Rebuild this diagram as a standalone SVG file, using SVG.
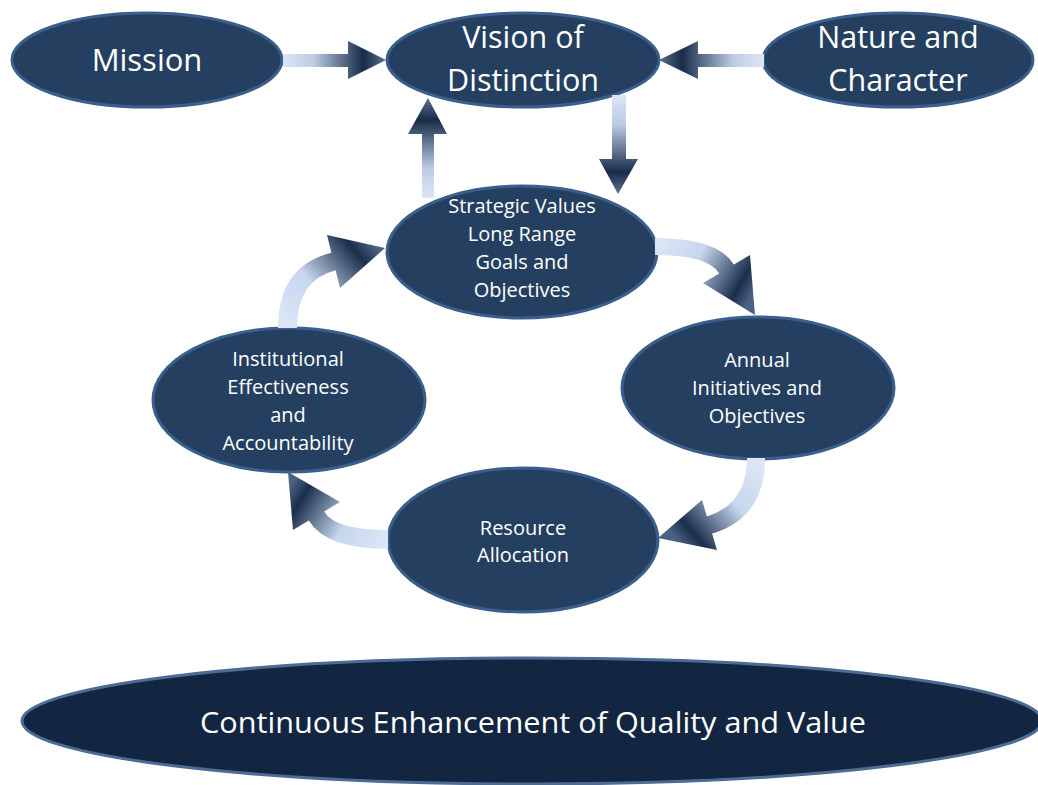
<svg xmlns="http://www.w3.org/2000/svg" width="1038" height="785" viewBox="0 0 1038 785">
<style>
.node{fill:#243F60;stroke:#3B5F8C;stroke-width:3}
.big{fill:#132641;stroke:#4C6B95;stroke-width:3}
.t{fill:#FFFFFF;font-family:"Open Sans","DejaVu Sans",sans-serif;text-anchor:middle}
.l{font-size:30.5px}
.s{font-size:20px}
</style>
<defs>
<linearGradient id="gMV" gradientUnits="userSpaceOnUse" x1="283" y1="0" x2="386" y2="0">
<stop offset="0" stop-color="#DCE6F6"/><stop offset="0.3" stop-color="#BCCBE3"/><stop offset="0.78" stop-color="#182C48"/><stop offset="1" stop-color="#5C7090"/>
</linearGradient>
<linearGradient id="gNV" gradientUnits="userSpaceOnUse" x1="764" y1="0" x2="659" y2="0">
<stop offset="0" stop-color="#DCE6F6"/><stop offset="0.3" stop-color="#BCCBE3"/><stop offset="0.78" stop-color="#182C48"/><stop offset="1" stop-color="#5C7090"/>
</linearGradient>
<linearGradient id="gVS" gradientUnits="userSpaceOnUse" x1="0" y1="95" x2="0" y2="194">
<stop offset="0" stop-color="#DCE6F6"/><stop offset="0.3" stop-color="#BCCBE3"/><stop offset="0.78" stop-color="#182C48"/><stop offset="1" stop-color="#5C7090"/>
</linearGradient>
<linearGradient id="gSV" gradientUnits="userSpaceOnUse" x1="0" y1="198" x2="0" y2="98">
<stop offset="0" stop-color="#DCE6F6"/><stop offset="0.3" stop-color="#BCCBE3"/><stop offset="0.78" stop-color="#182C48"/><stop offset="1" stop-color="#5C7090"/>
</linearGradient>
<linearGradient id="gSA" gradientUnits="userSpaceOnUse" x1="655" y1="246" x2="750" y2="300">
<stop offset="0" stop-color="#DCE6F6"/><stop offset="0.4" stop-color="#C6D6EE"/><stop offset="0.85" stop-color="#1A2F4C"/><stop offset="1" stop-color="#4C6284"/>
</linearGradient>
<linearGradient id="gAR" gradientUnits="userSpaceOnUse" x1="756" y1="460" x2="670" y2="532">
<stop offset="0" stop-color="#DCE6F6"/><stop offset="0.4" stop-color="#C6D6EE"/><stop offset="0.85" stop-color="#1A2F4C"/><stop offset="1" stop-color="#4C6284"/>
</linearGradient>
<linearGradient id="gRI" gradientUnits="userSpaceOnUse" x1="388" y1="540" x2="292" y2="482">
<stop offset="0" stop-color="#DCE6F6"/><stop offset="0.4" stop-color="#C6D6EE"/><stop offset="0.85" stop-color="#1A2F4C"/><stop offset="1" stop-color="#4C6284"/>
</linearGradient>
<linearGradient id="gIS" gradientUnits="userSpaceOnUse" x1="287" y1="328" x2="378" y2="250">
<stop offset="0" stop-color="#DCE6F6"/><stop offset="0.4" stop-color="#C6D6EE"/><stop offset="0.85" stop-color="#1A2F4C"/><stop offset="1" stop-color="#4C6284"/>
</linearGradient>
</defs>
<rect width="1038" height="785" fill="#FFFFFF"/>
<g id="mission"><ellipse class="node" cx="147" cy="60" rx="135" ry="47"/><text class="t l" x="147" y="71" style="font-size:31px">Mission</text></g>
<g id="vision"><ellipse class="node" cx="523" cy="60" rx="136" ry="47"/><text class="t l" x="523" y="48">Vision of</text><text class="t l" x="523" y="91">Distinction</text></g>
<g id="nature"><ellipse class="node" cx="898" cy="60" rx="135" ry="47"/><text class="t l" x="898" y="48">Nature and</text><text class="t l" x="898" y="91">Character</text></g>
<g id="strategic"><ellipse class="node" cx="522" cy="252" rx="135" ry="66"/><text class="t s" x="522" y="213">Strategic Values</text><text class="t s" x="522" y="241">Long Range</text><text class="t s" x="522" y="269">Goals and</text><text class="t s" x="522" y="297">Objectives</text></g>
<g id="institutional"><ellipse class="node" cx="289" cy="400" rx="136" ry="72"/><text class="t s" x="288" y="366">Institutional</text><text class="t s" x="288" y="394">Effectiveness</text><text class="t s" x="288" y="422">and</text><text class="t s" x="288" y="450">Accountability</text></g>
<g id="annual"><ellipse class="node" cx="758" cy="388" rx="136" ry="71"/><text class="t s" x="757" y="367">Annual</text><text class="t s" x="757" y="395">Initiatives and</text><text class="t s" x="757" y="423">Objectives</text></g>
<g id="resource"><ellipse class="node" cx="523" cy="540" rx="135" ry="72"/><text class="t s" x="523" y="535">Resource</text><text class="t s" x="523" y="562">Allocation</text></g>
<g id="continuous"><ellipse class="big" cx="532" cy="721" rx="510" ry="63"/><text class="t" x="533" y="733" style="font-size:30px" textLength="666" lengthAdjust="spacingAndGlyphs">Continuous Enhancement of Quality and Value</text></g>
<g id="connectors">
<path fill="url(#gMV)" d="M283,54 L348,54 L348,41 L386,60 L348,79 L348,67 L283,67 Z"/>
<path fill="url(#gNV)" d="M764,54 L698,54 L698,41 L659,60 L698,79 L698,67 L764,67 Z"/>
<path fill="url(#gVS)" d="M612,95 L612,159 L599,159 L618,194 L638,159 L626,159 L626,95 Z"/>
<path fill="url(#gSV)" d="M422,198 L422,134 L408,134 L428,98 L447,134 L434,134 L434,198 Z"/>
<path fill="url(#gSA)" d="M655,238 Q718,238 733.8,264.6 L750,255 L755,315 L703,283 L719.2,273.4 Q708,255 655,255 Z"/>
<path fill="url(#gAR)" d="M765,458 Q765,518 712.1,533.6 L717,550 L658,538 L702,500 L706.9,516.4 Q747,504 747,458 Z"/>
<path fill="url(#gRI)" d="M388,530 Q335,530 324.2,511.4 L340,502 L288,472 L293,530 L308.8,520.6 Q326,549 388,549 Z"/>
<path fill="url(#gIS)" d="M278,328 Q278,266 331.4,252.8 L327,235 L385,248 L340,288 L335.6,270.2 Q297,280 297,328 Z"/>
</g>
</svg>
